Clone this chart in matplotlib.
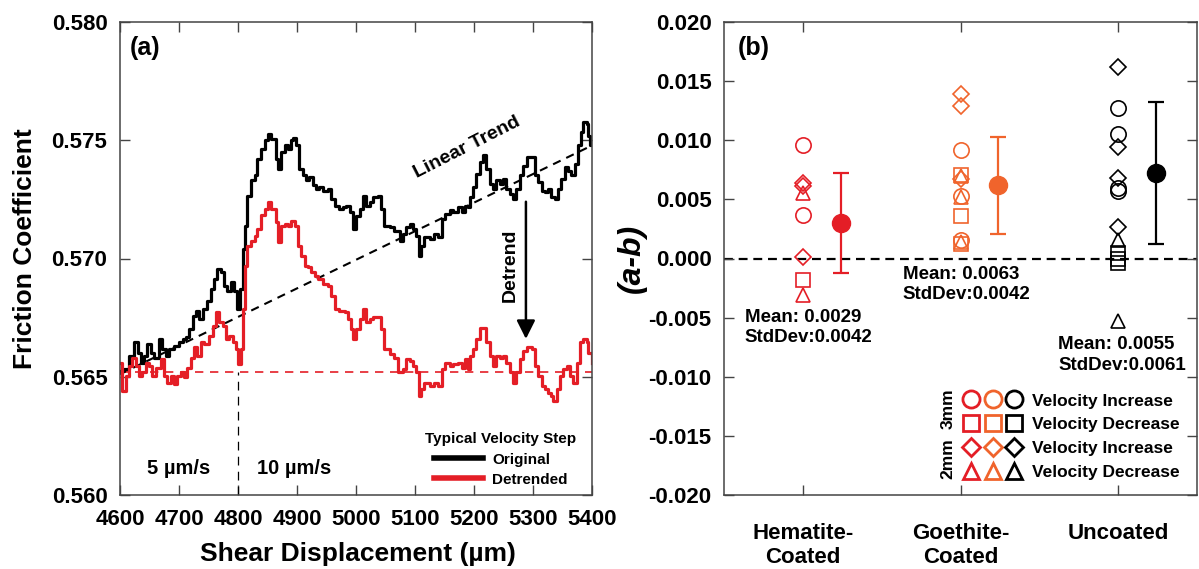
import numpy as np
import matplotlib
matplotlib.use('Agg')
import matplotlib.pyplot as plt
from matplotlib.lines import Line2D
from matplotlib.legend_handler import HandlerTuple
from matplotlib.ticker import FormatStrFormatter, MultipleLocator

plt.rcParams['font.family'] = ['Liberation Sans', 'DejaVu Sans']
plt.rcParams['font.weight'] = 'bold'
plt.rcParams['axes.labelweight'] = 'bold'
plt.rcParams['axes.unicode_minus'] = False

# ---- panel (a): friction coefficient vs shear displacement ----
orig_x = [4600, 4607, 4615, 4624, 4630, 4635, 4641, 4646, 4652, 4658, 4666, 4672, 4678, 4683,
          4692, 4700, 4706, 4712, 4717, 4723, 4729, 4734, 4740, 4748, 4754, 4760, 4765, 4771,
          4777, 4782, 4788, 4794, 4799, 4804, 4808, 4812, 4816, 4822, 4828, 4833, 4839, 4845,
          4850, 4856, 4864, 4867, 4873, 4879, 4884, 4890, 4893, 4898, 4904, 4910, 4915, 4921,
          4927, 4932, 4938, 4944, 4952, 4958, 4964, 4972, 4978, 4983, 4989, 4995, 5000, 5006,
          5012, 5017, 5023, 5029, 5037, 5043, 5048, 5057, 5065, 5074, 5080, 5085, 5091, 5097,
          5102, 5106, 5111, 5116, 5125, 5133, 5139, 5145, 5150, 5159, 5164, 5173, 5179, 5184,
          5190, 5193, 5198, 5204, 5210, 5215, 5221, 5227, 5232, 5238, 5244, 5249, 5255, 5261,
          5266, 5272, 5278, 5283, 5289, 5298, 5303, 5309, 5315, 5320, 5326, 5331, 5337, 5343,
          5348, 5354, 5360, 5365, 5371, 5377, 5382, 5385, 5391, 5394, 5397, 5400]
orig_mu = [0.56525, 0.56532, 0.56588, 0.56645, 0.56602, 0.56560, 0.56588, 0.56638, 0.56602,
           0.56581, 0.56659, 0.56617, 0.56588, 0.56617, 0.56631, 0.56645, 0.56659, 0.56666,
           0.56701, 0.56758, 0.56779, 0.56744, 0.56786, 0.56821, 0.56871, 0.56913, 0.56956,
           0.56942, 0.56885, 0.56864, 0.56899, 0.56864, 0.56786, 0.56871, 0.57040, 0.57139,
           0.57266, 0.57330, 0.57351, 0.57422, 0.57464, 0.57499, 0.57528, 0.57506, 0.57422,
           0.57379, 0.57450, 0.57478, 0.57464, 0.57499, 0.57509, 0.57478, 0.57379, 0.57351,
           0.57330, 0.57344, 0.57309, 0.57294, 0.57301, 0.57287, 0.57294, 0.57252, 0.57224,
           0.57210, 0.57217, 0.57224, 0.57196, 0.57125, 0.57181, 0.57210, 0.57266, 0.57224,
           0.57238, 0.57259, 0.57264, 0.57210, 0.57139, 0.57132, 0.57118, 0.57075, 0.57104,
           0.57132, 0.57146, 0.57125, 0.57097, 0.57012, 0.57054, 0.57090, 0.57083, 0.57104,
           0.57090, 0.57167, 0.57189, 0.57203, 0.57196, 0.57217, 0.57196, 0.57224, 0.57217,
           0.57259, 0.57301, 0.57358, 0.57408, 0.57436, 0.57379, 0.57316, 0.57294, 0.57330,
           0.57316, 0.57337, 0.57294, 0.57273, 0.57252, 0.57294, 0.57351, 0.57393, 0.57429,
           0.57429, 0.57351, 0.57323, 0.57287, 0.57281, 0.57294, 0.57259, 0.57252, 0.57294,
           0.57337, 0.57386, 0.57372, 0.57351, 0.57400, 0.57478, 0.57535, 0.57577, 0.57570,
           0.57520, 0.57478, 0.57492]

detr_x = [4600, 4604, 4610, 4615, 4621, 4627, 4632, 4638, 4644, 4649, 4655, 4661, 4669, 4675,
          4680, 4686, 4692, 4697, 4703, 4709, 4714, 4720, 4726, 4731, 4737, 4743, 4751, 4757,
          4763, 4768, 4774, 4780, 4785, 4791, 4797, 4800, 4805, 4808, 4812, 4816, 4822, 4828,
          4833, 4839, 4845, 4850, 4856, 4864, 4867, 4873, 4879, 4884, 4890, 4896, 4901, 4907,
          4913, 4918, 4924, 4930, 4935, 4944, 4952, 4958, 4964, 4972, 4981, 4986, 4992, 4995,
          5000, 5006, 5012, 5017, 5023, 5029, 5037, 5043, 5048, 5057, 5065, 5071, 5080, 5085,
          5091, 5097, 5102, 5106, 5111, 5116, 5125, 5133, 5139, 5145, 5150, 5159, 5164, 5173,
          5179, 5184, 5190, 5193, 5198, 5204, 5210, 5215, 5221, 5227, 5232, 5238, 5244, 5249,
          5255, 5261, 5266, 5272, 5278, 5283, 5289, 5298, 5303, 5309, 5315, 5320, 5326, 5331,
          5334, 5340, 5346, 5351, 5357, 5363, 5368, 5374, 5380, 5385, 5391, 5394, 5400]
detr_mu = [0.56560, 0.56440, 0.56504, 0.56546, 0.56581, 0.56546, 0.56504, 0.56518, 0.56560,
           0.56546, 0.56504, 0.56539, 0.56574, 0.56504, 0.56475, 0.56504, 0.56468, 0.56504,
           0.56518, 0.56497, 0.56539, 0.56581, 0.56624, 0.56588, 0.56645, 0.56638, 0.56673,
           0.56715, 0.56772, 0.56730, 0.56715, 0.56659, 0.56673, 0.56645, 0.56617, 0.56553,
           0.56617, 0.56786, 0.56970, 0.57054, 0.57076, 0.57097, 0.57125, 0.57182, 0.57210,
           0.57238, 0.57210, 0.57153, 0.57069, 0.57139, 0.57146, 0.57139, 0.57160, 0.57139,
           0.57054, 0.57012, 0.56970, 0.56963, 0.56941, 0.56927, 0.56913, 0.56892, 0.56885,
           0.56843, 0.56786, 0.56779, 0.56772, 0.56744, 0.56701, 0.56659, 0.56701, 0.56744,
           0.56786, 0.56730, 0.56744, 0.56751, 0.56751, 0.56701, 0.56617, 0.56595, 0.56581,
           0.56518, 0.56532, 0.56574, 0.56567, 0.56546, 0.56518, 0.56419, 0.56447, 0.56475,
           0.56461, 0.56475, 0.56461, 0.56532, 0.56560, 0.56546, 0.56553, 0.56560, 0.56539,
           0.56574, 0.56532, 0.56588, 0.56617, 0.56659, 0.56708, 0.56708, 0.56645, 0.56588,
           0.56546, 0.56588, 0.56581, 0.56588, 0.56560, 0.56518, 0.56475, 0.56518, 0.56574,
           0.56610, 0.56624, 0.56617, 0.56546, 0.56504, 0.56461, 0.56447, 0.56433, 0.56419,
           0.56398, 0.56447, 0.56504, 0.56532, 0.56546, 0.56504, 0.56475, 0.56560, 0.56645,
           0.56659, 0.56645, 0.56602, 0.56560]

trend_x = [4600, 5400]
trend_mu = [0.56511, 0.57478]
baseline_mu = 0.5652
step_x = 4800

# ---- panel (b): (a-b) values per coating ----
categories = ['Hematite-\nCoated', 'Goethite-\nCoated', 'Uncoated']
colors = ['#E41E26', '#F0642C', '#000000']

hem_circle = [0.0096, 0.0037]
hem_square = [-0.0018]
hem_diamond = [0.0064, 0.0061, 0.0001]
hem_triangle = [0.0055, -0.0031]

goe_circle = [0.0092, 0.0053, 0.0016]
goe_square = [0.0071, 0.0036, 0.0012]
goe_diamond = [0.0139, 0.0129, 0.0067]
goe_triangle = [0.0070, 0.0052, 0.0014]

unc_circle = [0.0127, 0.0105, 0.0060, 0.0057]
unc_square = [0.0005, 0.0000, -0.0004]
unc_diamond = [0.0162, 0.0094, 0.0068, 0.0027]
unc_triangle = [0.0016, -0.0053]

mean_vals = [0.0030, 0.0062, 0.0072]
std_vals = [0.0042, 0.0041, 0.0060]
stat_text = ['Mean: 0.0029\nStdDev:0.0042', 'Mean: 0.0063\nStdDev:0.0042',
             'Mean: 0.0055\nStdDev:0.0061']

fig = plt.figure(figsize=(11.99, 5.69), dpi=100)
ax1 = fig.add_axes([120 / 1199, 74 / 569, 472 / 1199, 473 / 569])
ax2 = fig.add_axes([724 / 1199, 74 / 569, 473 / 1199, 473 / 569])

spine_col = '#444444'

# panel (a)
ax1.plot(trend_x, trend_mu, color='black', lw=1.5, ls=(0, (4, 3)))
ax1.plot([4600, 5400], [baseline_mu, baseline_mu], color='#E41E26', lw=1.2, ls=(0, (5, 4)))
ax1.plot([step_x, step_x], [0.560, baseline_mu], color='black', lw=0.9, ls=(0, (7, 5)))
ax1.plot(orig_x, orig_mu, color='black', lw=2.3, drawstyle='steps-post', label='Original')
ax1.plot(detr_x, detr_mu, color='#E41E26', lw=2.3, drawstyle='steps-post', label='Detrended')

ax1.set_xlim(4600, 5400)
ax1.set_ylim(0.560, 0.580)
ax1.xaxis.set_major_locator(MultipleLocator(100))
ax1.yaxis.set_major_locator(MultipleLocator(0.005))
ax1.yaxis.set_major_formatter(FormatStrFormatter('%.3f'))
ax1.set_xlabel('Shear Displacement (µm)', fontsize=19)
ax1.set_ylabel('Friction Coefficient', fontsize=19)
ax1.xaxis.set_label_coords(0.504, -0.1)
ax1.yaxis.set_label_coords(-0.175, 0.52)

ax1.text(0.02, 0.945, '(a)', transform=ax1.transAxes, fontsize=18, va='center', ha='left')
ax1.text(5188, 0.57468, 'Linear Trend', rotation=27, fontsize=14, ha='center', va='center')
ax1.annotate('', xy=(5288, 0.5666), xytext=(5288, 0.5724),
             arrowprops=dict(arrowstyle='-|>', color='black', lw=1.8,
                             mutation_scale=28, shrinkA=0, shrinkB=0))
ax1.text(5262, 0.5697, 'Detrend', rotation=90, fontsize=14, ha='center', va='center')
ax1.text(4700, 0.5611, '5 µm/s', fontsize=14.5, ha='center', va='center')
ax1.text(4895, 0.5611, '10 µm/s', fontsize=14.5, ha='center', va='center')

leg1 = ax1.legend(loc='lower right', bbox_to_anchor=(0.99, -0.005), frameon=False,
                  title='Typical Velocity Step', fontsize=11, title_fontsize=11,
                  handlelength=3.2, handletextpad=0.6, labelspacing=0.4, borderpad=0.2)
for ln in leg1.get_lines():
    ln.set_linewidth(4)
leg1.get_title().set_fontweight('bold')

# panel (b)
groups = [
    (hem_circle, hem_square, hem_diamond, hem_triangle),
    (goe_circle, goe_square, goe_diamond, goe_triangle),
    (unc_circle, unc_square, unc_diamond, unc_triangle),
]
mk_styles = [('o', 11), ('s', 10), ('D', 8), ('^', 10.5)]
for i, (grp, col) in enumerate(zip(groups, colors)):
    xpos = i + 1
    for vals, (mk, ms) in zip(grp, mk_styles):
        ax2.plot([xpos] * len(vals), vals, ls='none', marker=mk, ms=ms, mfc='none',
                 mec=col, mew=1.2)
    ax2.errorbar(xpos + 0.24, mean_vals[i], yerr=std_vals[i], fmt='o', ms=13, color=col,
                 ecolor=col, elinewidth=1.6, capsize=6, capthick=1.6)

ax2.axhline(0, color='black', lw=1.6, ls=(0, (4, 2.6)), zorder=0)

ax2.text(0.632, -0.00584, stat_text[0], fontsize=13.5, ha='left', va='center', linespacing=1.25)
ax2.text(1.635, -0.0022, stat_text[1], fontsize=13.5, ha='left', va='center', linespacing=1.25)
ax2.text(2.619, -0.00816, stat_text[2], fontsize=13.5, ha='left', va='center', linespacing=1.25)
ax2.text(0.03, 0.945, '(b)', transform=ax2.transAxes, fontsize=18, va='center', ha='left')

ax2.set_xlim(0.5, 3.5)
ax2.set_ylim(-0.020, 0.020)
ax2.set_xticks([1, 2, 3])
ax2.set_xticklabels(categories, fontsize=18, linespacing=1.2)
ax2.yaxis.set_major_locator(MultipleLocator(0.005))
ax2.yaxis.set_major_formatter(FormatStrFormatter('%.3f'))
ax2.set_ylabel('(a-b)', fontsize=23, style='italic')
ax2.yaxis.set_label_coords(-0.163, 0.5)

# marker legend built from tuples of handles
rows = []
for mk, ms in mk_styles:
    rows.append(tuple(Line2D([], [], ls='none', marker=mk, ms=ms * 1.12, mfc='none', mec=c, mew=2)
                      for c in colors))
leg2 = ax2.legend(rows, ['Velocity Increase', 'Velocity Decrease', 'Velocity Increase',
                         'Velocity Decrease'],
                  handler_map={tuple: HandlerTuple(ndivide=None, pad=0.15)},
                  loc='lower right', bbox_to_anchor=(0.99, 0.006), frameon=False,
                  fontsize=12.5, handlelength=3.6, handletextpad=0.5, labelspacing=0.5,
                  borderpad=0.2)
ax2.text(1.921, -0.01268, '3mm', rotation=90, fontsize=12.5, ha='center', va='center')
ax2.text(1.921, -0.01691, '2mm', rotation=90, fontsize=12.5, ha='center', va='center')

for ax in (ax1, ax2):
    ax.tick_params(direction='in', length=7, width=1.0, top=True, right=True,
                   labelsize=16, colors=spine_col, labelcolor='black')
    for s in ax.spines.values():
        s.set_color(spine_col)
        s.set_linewidth(1.1)
    for lab in ax.get_xticklabels() + ax.get_yticklabels():
        lab.set_fontweight('bold')
ax1.tick_params(axis='x', pad=10)
ax1.tick_params(axis='y', pad=9)
ax2.tick_params(axis='x', pad=20)
ax2.tick_params(axis='y', pad=9)

fig.savefig('out.png', dpi=100)
